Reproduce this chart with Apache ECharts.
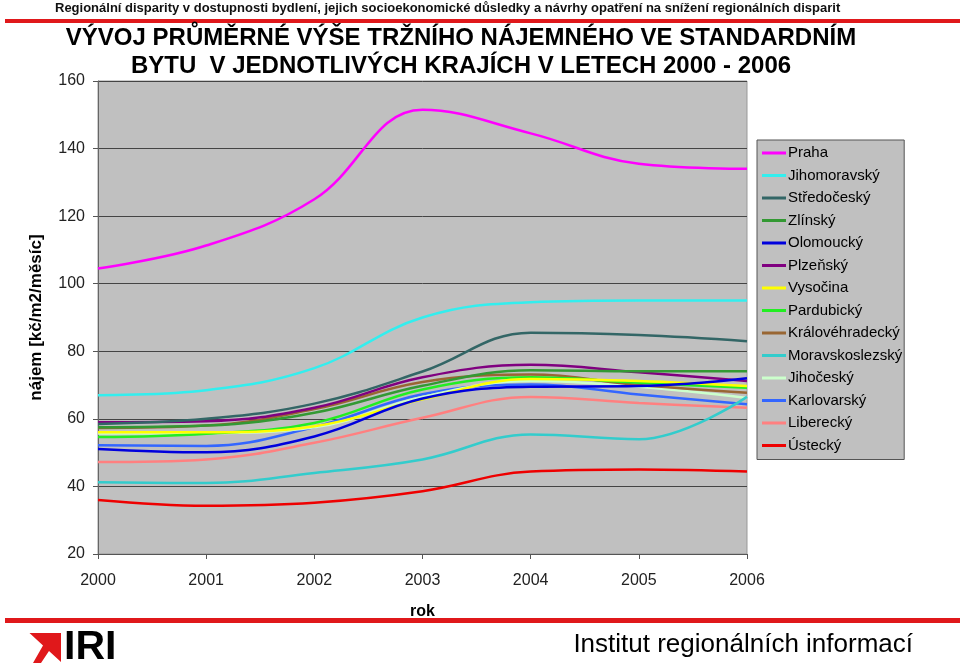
<!DOCTYPE html>
<html>
<head>
<meta charset="utf-8">
<script src="https://cdn.jsdelivr.net/npm/echarts@6/dist/echarts.min.js"></script>
<style>html,body{margin:0;padding:0;background:#fff;}#c{width:960px;height:668px;}</style>
</head>
<body>
<div id="c"></div>
<script>
var years = ['2000','2001','2002','2003','2004','2005','2006'];
var regions = ['Praha','Jihomoravský','Středočeský','Zlínský','Olomoucký','Plzeňský','Vysočina','Pardubický','Královéhradecký','Moravskoslezský','Jihočeský','Karlovarský','Liberecký','Ústecký'];
var colors = ['#ff00ff','#33eeee','#336666','#339933','#0000dd','#800080','#ffff00','#22ee22','#996633','#33cccc','#ccffcc','#3366ff','#ff8080','#ee0000'];
var praha = [104.5, 111.3, 125, 151.5, 144.5, 135.5, 134];
var jihomoravsky = [67, 68.5, 75, 90, 94.5, 95, 95];
var stredocesky = [58.5, 60, 64.5, 74, 85.5, 84.8, 83];
var zlinsky = [57.5, 58, 61.8, 69.8, 74.4, 74.1, 74.1];
var olomoucky = [51.1, 50.1, 54.8, 66, 69.5, 69.7, 72];
var plzensky = [59, 59.3, 63.3, 72.3, 76, 73.8, 71.2];
var vysocina = [56, 56, 57.8, 65.8, 71.8, 71.2, 69.7];
var pardubicky = [54.6, 55.6, 58.8, 68.7, 72.3, 70.7, 69.2];
var kralovehradecky = [57.3, 58, 62.9, 70.9, 73.1, 70, 67.7];
var moravskoslezsky = [41.2, 41, 44, 48, 55.4, 54, 66.5];
var jihocesky = [55.7, 55.8, 57.5, 66.5, 71.2, 69.5, 66.2];
var karlovarsky = [52.2, 52, 57.6, 67.3, 70.2, 67.2, 64.3];
var liberecky = [47.2, 48, 52.9, 60.3, 66.5, 64.7, 63.3];
var ustecky = [36, 34.3, 35.2, 38.6, 44.4, 45, 44.4];
var values = [praha, jihomoravsky, stredocesky, zlinsky, olomoucky, plzensky, vysocina, pardubicky, kralovehradecky, moravskoslezsky, jihocesky, karlovarsky, liberecky, ustecky];

var headerText = 'Regionální disparity v dostupnosti bydlení, jejich socioekonomické důsledky a návrhy opatření na snížení regionálních disparit';
var titleLine1 = 'VÝVOJ PRŮMĚRNÉ VÝŠE TRŽNÍHO NÁJEMNÉHO VE STANDARDNÍM';
var titleLine2 = 'BYTU  V JEDNOTLIVÝCH KRAJÍCH V LETECH 2000 - 2006';
var footerText = 'Institut regionálních informací';

var font = 'Liberation Sans, Arial, sans-serif';
var chart = echarts.init(document.getElementById('c'));
var series = regions.map(function (name, i) {
  return {
    name: name, type: 'line', data: values[i], smooth: 0.4, symbol: 'none',
    lineStyle: { color: colors[i], width: 2.5 }, itemStyle: { color: colors[i] }
  };
});
series.reverse();
chart.setOption({
  animation: false,
  textStyle: { fontFamily: font },
  grid: { left: 98, right: 213, top: 81, bottom: 114, show: true, backgroundColor: '#c0c0c0', borderColor: '#999', borderWidth: 1 },
  xAxis: {
    type: 'category', data: years, boundaryGap: false,
    name: 'rok', nameLocation: 'middle', nameGap: 50,
    nameTextStyle: { fontSize: 16, fontWeight: 'bold', color: '#000', fontFamily: font },
    axisLine: { lineStyle: { color: '#555', width: 1 } },
    axisTick: { show: true, length: 5, lineStyle: { color: '#555' } },
    axisLabel: { fontSize: 16, color: '#222', margin: 19, fontFamily: font },
    splitLine: { show: false }
  },
  yAxis: {
    type: 'value', min: 20, max: 160, interval: 20,
    name: 'nájem [kč/m2/měsíc]', nameLocation: 'middle', nameGap: 53,
    nameTextStyle: { fontSize: 17, fontWeight: 'bold', color: '#000', fontFamily: font },
    axisLine: { show: true, lineStyle: { color: '#666', width: 1 } },
    axisTick: { show: true, length: 5, lineStyle: { color: '#555' } },
    axisLabel: { fontSize: 16, color: '#222', margin: 13, fontFamily: font },
    splitLine: { show: true, lineStyle: { color: '#444', width: 1 } }
  },
  legend: {
    data: regions, orient: 'vertical', left: 757, top: 140,
    padding: [5, 2, 6, 5], itemGap: 6.5, itemWidth: 24, itemHeight: 3, icon: 'rect',
    backgroundColor: '#c0c0c0', borderColor: '#555', borderWidth: 1,
    textStyle: { fontSize: 15, color: '#000', lineHeight: 16, padding: [0, 0, 0, -3], fontFamily: font }
  },
  series: series,
  graphic: [
    { type: 'text', x: 55, y: 8, style: { text: headerText, font: 'bold 13px ' + font, fill: '#111', textVerticalAlign: 'middle' } },
    { type: 'rect', shape: { x: 5, y: 19, width: 955, height: 4 }, style: { fill: '#e0181b' } },
    { type: 'text', x: 461, y: 38, style: { text: titleLine1, font: 'bold 24px ' + font, fill: '#000', textAlign: 'center', textVerticalAlign: 'middle' } },
    { type: 'text', x: 461, y: 66, style: { text: titleLine2, font: 'bold 24px ' + font, fill: '#000', textAlign: 'center', textVerticalAlign: 'middle' } },
    { type: 'rect', shape: { x: 5, y: 618, width: 955, height: 5 }, style: { fill: '#e0181b' } },
    { type: 'polygon', shape: { points: [[29.5,633],[61,633],[61,662],[49,651],[41,663],[33,663],[43,645.5]] }, style: { fill: '#e0181b' } },
    { type: 'text', x: 64, y: 648, style: { text: 'IRI', font: 'bold 41px ' + font, fill: '#000', textVerticalAlign: 'middle' } },
    { type: 'text', x: 913, y: 645, style: { text: footerText, font: '26px ' + font, fill: '#000', textAlign: 'right', textVerticalAlign: 'middle' } }
  ]
});
</script>
</body>
</html>
